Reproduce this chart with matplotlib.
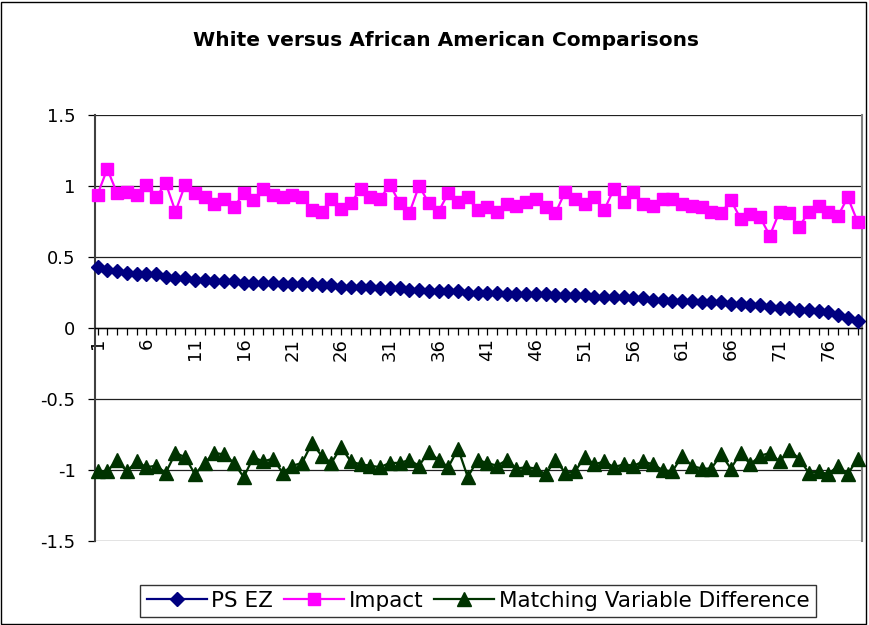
import numpy as np
import matplotlib
matplotlib.use('Agg')
import matplotlib.pyplot as plt
from matplotlib.patches import Rectangle

plt.rcParams['font.family'] = ['DejaVu Sans']

# data
cases = list(range(1, 80))
ps_ez = [0.43, 0.41, 0.40, 0.39, 0.38, 0.38, 0.38, 0.36, 0.35, 0.35,
         0.34, 0.34, 0.33, 0.33, 0.33, 0.32, 0.32, 0.32, 0.32, 0.31,
         0.31, 0.31, 0.31, 0.30, 0.30, 0.29, 0.29, 0.29, 0.29, 0.28,
         0.28, 0.28, 0.27, 0.27, 0.26, 0.26, 0.26, 0.26, 0.25, 0.25,
         0.25, 0.25, 0.24, 0.24, 0.24, 0.24, 0.24, 0.23, 0.23, 0.23,
         0.23, 0.22, 0.22, 0.22, 0.22, 0.21, 0.21, 0.20, 0.20, 0.19,
         0.19, 0.19, 0.18, 0.18, 0.18, 0.17, 0.17, 0.16, 0.16, 0.15,
         0.14, 0.14, 0.13, 0.13, 0.12, 0.11, 0.09, 0.07, 0.05]
impact = [0.94, 1.12, 0.95, 0.96, 0.94, 1.01, 0.92, 1.02, 0.82, 1.01,
          0.95, 0.92, 0.87, 0.91, 0.85, 0.95, 0.90, 0.98, 0.94, 0.92,
          0.94, 0.92, 0.83, 0.82, 0.91, 0.84, 0.88, 0.98, 0.92, 0.91,
          1.01, 0.88, 0.81, 1.00, 0.88, 0.82, 0.95, 0.89, 0.92, 0.83,
          0.85, 0.82, 0.87, 0.86, 0.89, 0.91, 0.85, 0.81, 0.96, 0.91,
          0.87, 0.92, 0.83, 0.98, 0.89, 0.96, 0.87, 0.86, 0.91, 0.91,
          0.87, 0.86, 0.85, 0.82, 0.81, 0.90, 0.77, 0.80, 0.78, 0.65,
          0.82, 0.81, 0.71, 0.82, 0.86, 0.82, 0.79, 0.92, 0.75]
matching = [-1.01, -1.01, -0.93, -1.01, -0.94, -0.98, -0.97, -1.02, -0.88, -0.91,
            -1.03, -0.95, -0.88, -0.89, -0.95, -1.05, -0.91, -0.94, -0.92, -1.02,
            -0.97, -0.95, -0.81, -0.90, -0.95, -0.84, -0.94, -0.96, -0.97, -0.98,
            -0.95, -0.95, -0.93, -0.97, -0.87, -0.93, -0.98, -0.85, -1.05, -0.93,
            -0.95, -0.97, -0.93, -0.99, -0.98, -0.99, -1.03, -0.93, -1.02, -1.01,
            -0.91, -0.96, -0.94, -0.98, -0.96, -0.97, -0.94, -0.96, -1.00, -1.01,
            -0.90, -0.97, -0.99, -0.99, -0.89, -0.99, -0.88, -0.96, -0.90, -0.88,
            -0.94, -0.86, -0.92, -1.02, -1.01, -1.03, -0.97, -1.03, -0.92]

fig = plt.figure(figsize=(8.69, 6.25), dpi=100)
ax = fig.add_axes([95 / 869, 1 - 541 / 625, 767 / 869, 426 / 625])

# chart area border
fig.patches.append(Rectangle((0.001, 0.002), 0.996, 0.995, transform=fig.transFigure,
                             fill=False, edgecolor='black', linewidth=1))

ax.plot(cases, ps_ez, color='#000080', marker='D', markersize=7, linewidth=1.6,
        label='PS EZ', clip_on=False, zorder=3)
ax.plot(cases, impact, color='#FF00FF', marker='s', markersize=9, linewidth=1.6,
        label='Impact', clip_on=False, zorder=3)
ax.plot(cases, matching, color='#003300', marker='^', markersize=10, linewidth=1.6,
        label='Matching Variable Difference', clip_on=False, zorder=3)

ax.set_xlim(0.74, 79.46)
ax.set_ylim(-1.5, 1.5)
ax.set_yticks(np.arange(-1.5, 1.51, 0.5))
ax.set_yticklabels(['-1.5', '-1', '-0.5', '0', '0.5', '1', '1.5'])
ax.yaxis.grid(True, color='#202020', linewidth=0.9)
ax.set_axisbelow(True)

ax.set_xticks(cases)
ax.set_xticklabels([str(c) if (c - 1) % 5 == 0 else '' for c in cases])
ax.spines['bottom'].set_position(('data', 0))
ax.spines['bottom'].set_linewidth(1)
ax.spines['top'].set_visible(False)
ax.spines['right'].set_color('#808080')
ax.spines['right'].set_linewidth(1.5)
ax.spines['left'].set_color('#404040')
ax.spines['left'].set_linewidth(1.5)

ax.tick_params(axis='x', direction='out', length=5, width=0.9, labelsize=13, pad=2,
               labelrotation=90)
ax.tick_params(axis='y', direction='out', length=5, width=0.9, labelsize=13, pad=9)

fig.text(446 / 869, 1 - 41 / 625, 'White versus African American Comparisons',
         ha='center', va='center', fontsize=14.5, fontweight='bold')

leg = fig.legend(loc='center', bbox_to_anchor=(478 / 869, 1 - 601 / 625), ncol=3,
                 fontsize=15.5, frameon=True, fancybox=False, edgecolor='black',
                 handlelength=2.8, handletextpad=0.2, columnspacing=0.5,
                 borderpad=0.3)
leg.get_frame().set_linewidth(1)

fig.savefig('out.png', dpi=100)
